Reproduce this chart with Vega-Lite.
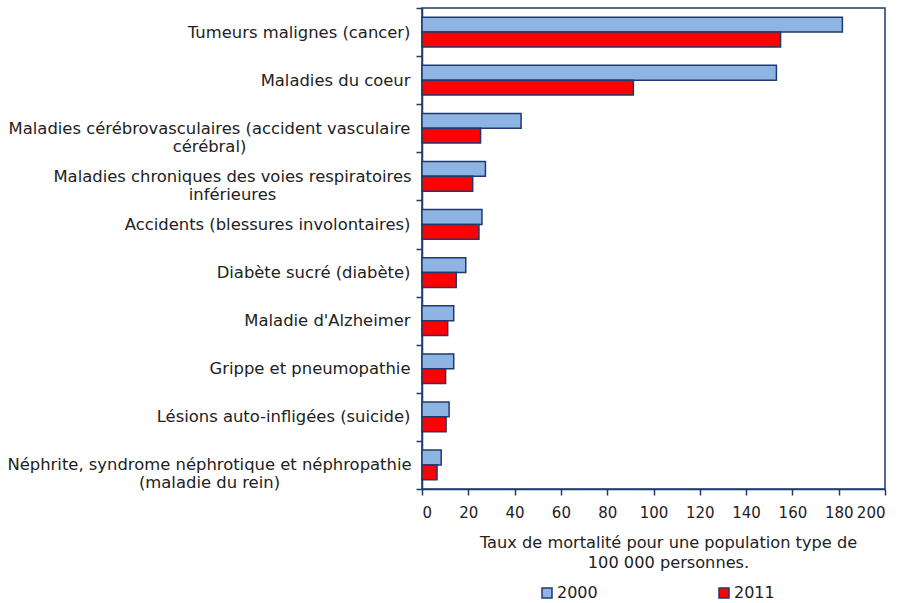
{
  "$schema": "https://vega.github.io/schema/vega-lite/v6.json",
  "width": 463,
  "height": 481,
  "autosize": "none",
  "padding": {"left": 422, "top": 8, "right": 19, "bottom": 114},
  "background": "white",
  "config": {
    "font": "DejaVu Sans",
    "view": {"stroke": "#1f3a6e", "strokeWidth": 1.5},
    "axis": {
      "domainColor": "#1f3a6e",
      "domainWidth": 1.5,
      "tickColor": "#1f3a6e",
      "tickWidth": 1.5,
      "tickSize": 6,
      "labelColor": "#222222",
      "titleColor": "#222222",
      "labelFont": "DejaVu Sans",
      "titleFont": "DejaVu Sans",
      "grid": false
    }
  },
  "data": {
    "values": [
      {"cause": "Tumeurs malignes (cancer)", "year": "2000", "value": 181.6},
      {"cause": "Tumeurs malignes (cancer)", "year": "2011", "value": 154.9},
      {"cause": "Maladies du coeur", "year": "2000", "value": 153.1},
      {"cause": "Maladies du coeur", "year": "2011", "value": 91.3},
      {"cause": "Maladies cérébrovasculaires (accident vasculaire|cérébral)", "year": "2000", "value": 42.8},
      {"cause": "Maladies cérébrovasculaires (accident vasculaire|cérébral)", "year": "2011", "value": 25.3},
      {"cause": "Maladies chroniques des voies respiratoires|inférieures", "year": "2000", "value": 27.4},
      {"cause": "Maladies chroniques des voies respiratoires|inférieures", "year": "2011", "value": 21.9},
      {"cause": "Accidents (blessures involontaires)", "year": "2000", "value": 25.9},
      {"cause": "Accidents (blessures involontaires)", "year": "2011", "value": 24.6},
      {"cause": "Diabète sucré (diabète)", "year": "2000", "value": 18.9},
      {"cause": "Diabète sucré (diabète)", "year": "2011", "value": 14.8},
      {"cause": "Maladie d'Alzheimer", "year": "2000", "value": 13.7},
      {"cause": "Maladie d'Alzheimer", "year": "2011", "value": 11.1},
      {"cause": "Grippe et pneumopathie", "year": "2000", "value": 13.7},
      {"cause": "Grippe et pneumopathie", "year": "2011", "value": 10.2},
      {"cause": "Lésions auto-infligées (suicide)", "year": "2000", "value": 11.7},
      {"cause": "Lésions auto-infligées (suicide)", "year": "2011", "value": 10.4},
      {"cause": "Néphrite, syndrome néphrotique et néphropathie|(maladie du rein)", "year": "2000", "value": 8.3},
      {"cause": "Néphrite, syndrome néphrotique et néphropathie|(maladie du rein)", "year": "2011", "value": 6.5}
    ]
  },
  "mark": {"type": "bar", "stroke": "#1f3a6e", "strokeWidth": 1.5},
  "encoding": {
    "y": {
      "field": "cause",
      "type": "nominal",
      "sort": null,
      "scale": {"paddingInner": 0, "paddingOuter": 0},
      "axis": {
        "title": null,
        "tickBand": "extent",
        "labelExpr": "split(datum.label, '|')",
        "labelAlign": {"condition": {"test": "indexof('' + datum.value, '|') >= 0", "value": "center"}, "value": "right"},
        "labelPadding": {
          "condition": [
            {"test": "indexof('' + datum.value, 'accident') >= 0", "value": 207},
            {"test": "indexof('' + datum.value, 'chroniques') >= 0", "value": 184},
            {"test": "indexof('' + datum.value, 'rein') >= 0", "value": 207}
          ],
          "value": 6
        },
        "labelFontSize": 16.4,
        "labelLineHeight": 18,
        "labelLimit": 500
      }
    },
    "yOffset": {
      "field": "year",
      "type": "nominal",
      "sort": ["2000", "2011"],
      "scale": {"paddingInner": 0, "paddingOuter": 0.62}
    },
    "x": {
      "field": "value",
      "type": "quantitative",
      "scale": {"domain": [0, 200], "nice": false},
      "axis": {
        "title": ["Taux de mortalité pour une population type de", "100 000 personnes."],
        "values": [0, 20, 40, 60, 80, 100, 120, 140, 160, 180, 200],
        "labelFontSize": 15,
        "labelPadding": 10,
        "titleFontSize": 16.2,
        "titleFontWeight": "normal",
        "titleLineHeight": 20,
        "titlePadding": 14,
        "titleX": 246
      }
    },
    "fill": {
      "field": "year",
      "type": "nominal",
      "scale": {"domain": ["2000", "2011"], "range": ["#8eb4e3", "#ff0000"]},
      "legend": {
        "title": null,
        "orient": "none",
        "direction": "horizontal",
        "legendX": 117,
        "legendY": 577,
        "symbolType": "square",
        "symbolSize": 100,
        "symbolStrokeColor": "#1f3a6e",
        "symbolStrokeWidth": 1.5,
        "labelFontSize": 16,
        "labelColor": "#222222",
        "labelOffset": 2,
        "columnPadding": 118
      }
    }
  }
}
